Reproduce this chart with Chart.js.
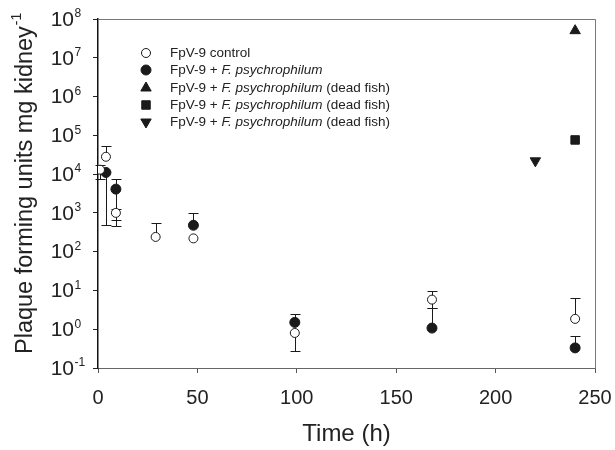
<!DOCTYPE html>
<html>
<head>
<meta charset="utf-8">
<script src="https://cdn.jsdelivr.net/npm/chart.js@4/dist/chart.umd.min.js"></script>
<style>
  body { margin: 0; background: #fff; }
</style>
</head>
<body>
<canvas id="pfuChart" width="615" height="450"></canvas>
<script>
// data (hours, PFU per mg kidney)
const ctrlHours = [1, 4, 9, 29, 48, 99, 168, 240];
const ctrlPfu   = [13000, 28000, 1000, 240, 220, 0.8, 5.8, 1.85];
const ctrlHi    = [17000, 53000, 1230, 540, null, null, 9.8, 6.3];
const ctrlLo    = [7600, null, 650, null, null, 0.28, 3.5, null];

const infHours = [4, 9, 48, 99, 168, 240];
const infPfu   = [11000, 4100, 480, 1.5, 1.07, 0.33];
const infHi    = [null, 7400, 1000, 2.5, 3.5, 0.66];
const infLo    = [500, 460, null, null, null, null];

const deadUpHours = [240];
const deadUpPfu = [50000000];
const deadSqHours = [240];
const deadSqPfu = [76000];
const deadDownHours = [220];
const deadDownPfu = [22000];

const seriesLabels = [
    'FpV-9 control',
    'FpV-9 + F. psychrophilum',
    'FpV-9 + F. psychrophilum (dead fish)',
    'FpV-9 + F. psychrophilum (dead fish)',
    'FpV-9 + F. psychrophilum (dead fish)'
];
const xTicks = [0, 50, 100, 150, 200, 250];
const yExponents = [-1, 0, 1, 2, 3, 4, 5, 6, 7, 8];

const FONT = '"Liberation Sans", Arial, sans-serif';
const INK = '#1a1a1a';

function toPoints(xs, ys) {
    return xs.map((x, i) => ({ x: x, y: ys[i] }));
}

const errorSets = [
    { ds: 0, hi: ctrlHi, lo: ctrlLo },
    { ds: 1, hi: infHi, lo: infLo }
];

// error bars drawn under the markers
const errorBars = {
    id: 'errorBars',
    beforeDatasetsDraw(chart) {
        const { ctx, scales: { x, y } } = chart;
        ctx.save();
        ctx.strokeStyle = INK;
        ctx.lineWidth = 1;
        errorSets.forEach(s => {
            chart.data.datasets[s.ds].data.forEach((p, i) => {
                const px = Math.round(x.getPixelForValue(p.x)) + 0.5;
                const py = y.getPixelForValue(p.y);
                [s.hi[i], s.lo[i]].forEach(v => {
                    if (v == null) return;
                    const ey = Math.round(y.getPixelForValue(v)) + 0.5;
                    ctx.beginPath();
                    ctx.moveTo(px, py);
                    ctx.lineTo(px, ey);
                    ctx.moveTo(px - 5, ey);
                    ctx.lineTo(px + 5, ey);
                    ctx.stroke();
                });
            });
        });
        ctx.restore();
    }
};

// frame, log tick labels with superscripts, y title, legend
const decorations = {
    id: 'decorations',
    afterDraw(chart) {
        const { ctx, chartArea: a, scales: { y } } = chart;
        ctx.save();

        // top and right edges of the frame
        ctx.strokeStyle = '#777';
        ctx.lineWidth = 1;
        ctx.beginPath();
        ctx.moveTo(a.left, a.top + 0.5);
        ctx.lineTo(a.right + 0.5, a.top + 0.5);
        ctx.lineTo(a.right + 0.5, a.bottom);
        ctx.stroke();

        // y tick labels 10^n
        ctx.fillStyle = '#222';
        ctx.textBaseline = 'middle';
        yExponents.forEach(e => {
            const ty = y.getPixelForValue(Math.pow(10, e));
            const edge = 74;
            ctx.font = '21px ' + FONT;
            ctx.textAlign = 'right';
            ctx.fillText('10', edge, ty + 1);
            ctx.font = '12px ' + FONT;
            ctx.textAlign = 'left';
            ctx.fillText(String(e), edge + 0.5, ty - 5);
        });

        // y axis title, rotated
        ctx.save();
        ctx.translate(32, 354);
        ctx.rotate(-Math.PI / 2);
        ctx.textAlign = 'left';
        ctx.textBaseline = 'alphabetic';
        ctx.font = '23.5px ' + FONT;
        const main = 'Plaque forming units mg kidney';
        ctx.fillText(main, 0, 0);
        const mw = ctx.measureText(main).width;
        ctx.font = '14px ' + FONT;
        ctx.fillText('-1', mw + 1, -11);
        ctx.restore();

        // legend
        const rowsY = [53, 70, 88, 105, 122];
        chart.data.datasets.forEach((ds, i) => {
            const ly = rowsY[i];
            ctx.fillStyle = ds.backgroundColor;
            ctx.strokeStyle = ds.borderColor;
            ctx.lineWidth = ds.borderWidth;
            Chart.helpers.drawPoint(ctx, {
                pointStyle: ds.pointStyle,
                rotation: ds.rotation || 0,
                radius: ds.pointRadius,
                borderWidth: ds.borderWidth
            }, 146, ly);

            let tx = 170;
            ctx.fillStyle = '#222';
            ctx.textAlign = 'left';
            ctx.textBaseline = 'middle';
            const parts = ds.label.split('F. psychrophilum');
            parts.forEach((part, k) => {
                ctx.font = '13.5px ' + FONT;
                ctx.fillText(part, tx, ly);
                tx += ctx.measureText(part).width;
                if (k < parts.length - 1) {
                    ctx.font = 'italic 13.5px ' + FONT;
                    ctx.fillText('F. psychrophilum', tx, ly);
                    tx += ctx.measureText('F. psychrophilum').width;
                }
            });
        });
        ctx.restore();
    }
};

const ctx = document.getElementById('pfuChart').getContext('2d');
new Chart(ctx, {
    type: 'scatter',
    data: {
        datasets: [
            {
                label: seriesLabels[0],
                data: toPoints(ctrlHours, ctrlPfu),
                pointStyle: 'circle',
                pointRadius: 4.5,
                backgroundColor: '#ffffff',
                borderColor: INK,
                borderWidth: 1
            },
            {
                label: seriesLabels[1],
                data: toPoints(infHours, infPfu),
                pointStyle: 'circle',
                pointRadius: 5,
                backgroundColor: INK,
                borderColor: INK,
                borderWidth: 1
            },
            {
                label: seriesLabels[2],
                data: toPoints(deadUpHours, deadUpPfu),
                pointStyle: 'triangle',
                pointRadius: 6,
                backgroundColor: INK,
                borderColor: INK,
                borderWidth: 1
            },
            {
                label: seriesLabels[3],
                data: toPoints(deadSqHours, deadSqPfu),
                pointStyle: 'rect',
                pointRadius: 6,
                backgroundColor: INK,
                borderColor: INK,
                borderWidth: 1
            },
            {
                label: seriesLabels[4],
                data: toPoints(deadDownHours, deadDownPfu),
                pointStyle: 'triangle',
                rotation: 180,
                pointRotation: 180,
                pointRadius: 6,
                backgroundColor: INK,
                borderColor: INK,
                borderWidth: 1
            }
        ]
    },
    options: {
        responsive: false,
        animation: false,
        layout: { padding: { left: 0, right: 20, top: 19, bottom: 0 } },
        plugins: {
            legend: { display: false },
            tooltip: { enabled: false }
        },
        scales: {
            x: {
                type: 'linear',
                min: 0,
                max: 250,
                afterBuildTicks: s => { s.ticks = xTicks.map(v => ({ value: v })); },
                afterFit: s => { s.height = 82; s.paddingLeft = 0; s.paddingRight = 0; },
                grid: { drawOnChartArea: false, drawTicks: true, tickLength: 5, color: '#555' },
                border: { display: true, color: '#666', width: 1 },
                ticks: { color: '#222', font: { family: FONT, size: 20 }, padding: 13, maxRotation: 0 },
                title: { display: true, text: 'Time (h)', color: '#222', font: { family: FONT, size: 24 }, padding: { top: 0, bottom: 1 } }
            },
            y: {
                type: 'logarithmic',
                min: 0.1,
                max: 100000000,
                afterBuildTicks: s => { s.ticks = yExponents.map(e => ({ value: Math.pow(10, e) })); },
                afterFit: s => { s.width = 98; s.paddingTop = 0; s.paddingBottom = 0; },
                grid: { drawOnChartArea: false, drawTicks: true, tickLength: 5, color: '#222' },
                border: { display: true, color: '#111', width: 1.5 },
                ticks: { callback: () => '' }
            }
        }
    },
    plugins: [errorBars, decorations]
});
</script>
</body>
</html>
